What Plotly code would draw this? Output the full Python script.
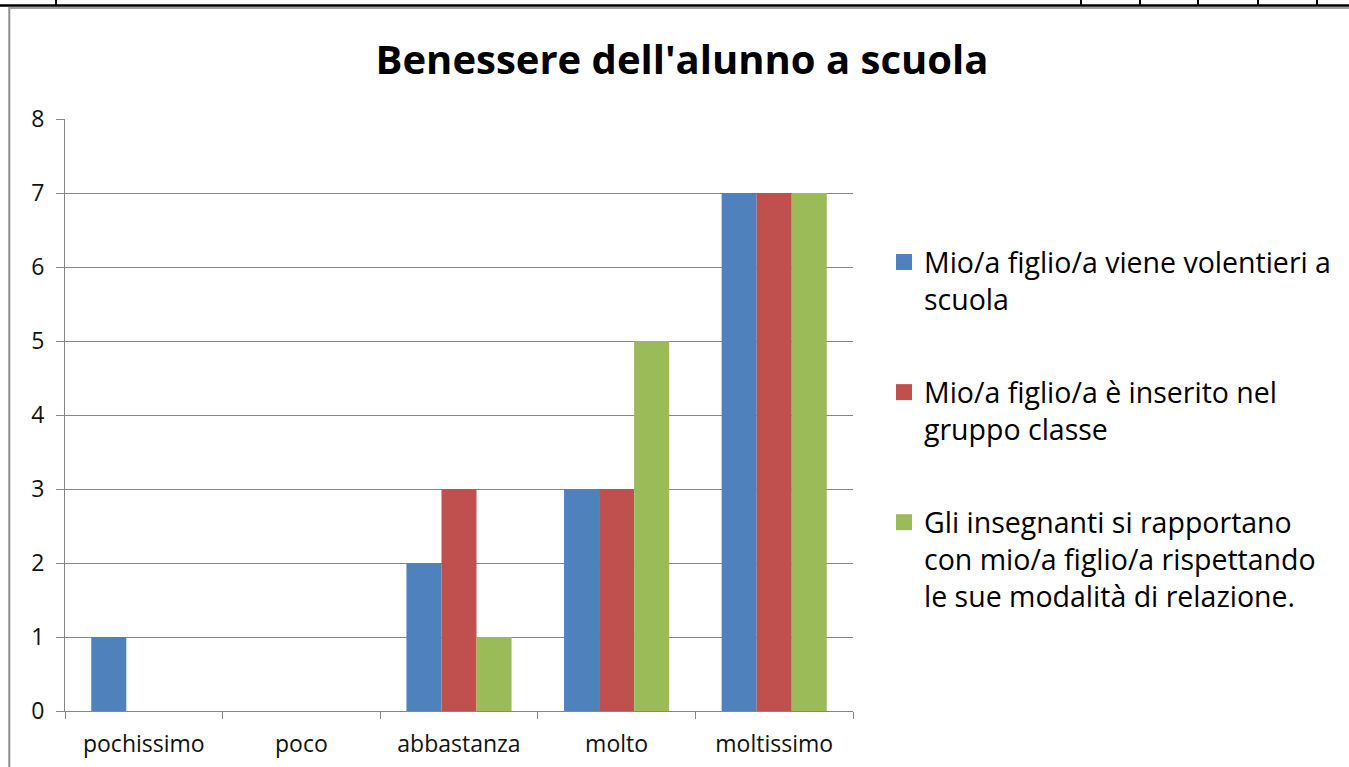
import plotly.graph_objects as go

categories = ["pochissimo", "poco", "abbastanza", "molto", "moltissimo"]
series_names = [
    "Mio/a figlio/a viene volentieri a<br>scuola",
    "Mio/a figlio/a è inserito nel<br>gruppo classe",
    "Gli insegnanti si rapportano<br>con mio/a figlio/a rispettando<br>le sue modalità di relazione.",
]
values_viene = [1, 0, 2, 3, 7]
values_inserito = [0, 0, 3, 3, 7]
values_insegnanti = [0, 0, 1, 5, 7]
colors = ["#4F81BD", "#C0504D", "#9BBB59"]
y_ticks = [0, 1, 2, 3, 4, 5, 6, 7, 8]

W, H = 1349, 767
L, R, T, B = 65, 853, 119, 711

FONT = "Open Sans"

fig = go.Figure()
all_vals = [values_viene, values_inserito, values_insegnanti]
for i, (name, vals) in enumerate(zip(series_names, all_vals)):
    fig.add_trace(go.Bar(x=categories, y=vals, name=name,
                         marker=dict(color=colors[i], line=dict(width=0)),
                         showlegend=False, legendgroup=str(i)))
for i, name in enumerate(series_names):
    fig.add_trace(go.Scatter(x=[None], y=[None], mode="markers", name=name,
                             marker=dict(symbol="square", size=16, color=colors[i]),
                             showlegend=True, legendgroup=str(i)))

def px_x(p):
    return (p - L) / (R - L)

def px_y(p):
    return (B - p) / (B - T)

shapes = []
# page table line at top
shapes.append(dict(type="line", xref="paper", yref="paper", x0=px_x(0), x1=px_x(W), y0=px_y(5.5), y1=px_y(5.5),
                   line=dict(color="black", width=2.5)))
for xv in [56, 1081, 1140, 1198, 1258, 1317]:
    shapes.append(dict(type="line", xref="paper", yref="paper", x0=px_x(xv), x1=px_x(xv), y0=px_y(0), y1=px_y(6),
                       line=dict(color="black", width=2)))
# gray chart frame
shapes.append(dict(type="line", xref="paper", yref="paper", x0=px_x(9.3), x1=px_x(9.3), y0=px_y(7), y1=px_y(H),
                   line=dict(color="#8c8c8c", width=2)))
shapes.append(dict(type="line", xref="paper", yref="paper", x0=px_x(9), x1=px_x(W), y0=px_y(8), y1=px_y(8),
                   line=dict(color="#a0a0a0", width=2)))

fig.update_layout(
    width=W, height=H,
    margin=dict(l=L, r=W - R, t=T, b=H - B, autoexpand=False),
    paper_bgcolor="white", plot_bgcolor="white",
    barmode="group", bargap=0.333, bargroupgap=0,
    font=dict(family=FONT, color="black"),
    title=dict(text="<b>Benessere dell'alunno a scuola</b>", x=682 / W, xanchor="center",
               y=1 - 60 / H, yanchor="middle", yref="container",
               font=dict(family=FONT, size=40, color="black")),
    xaxis=dict(type="category", tickson="boundaries", showgrid=False,
               ticks="outside", ticklen=7, tickcolor="#868686",
               showline=True, linecolor="#868686", linewidth=1,
               tickfont=dict(family=FONT, size=23, color="#111111"), ticklabelstandoff=12),
    yaxis=dict(range=[0, 8], tickvals=y_ticks, showgrid=True, gridcolor="#868686", gridwidth=1,
               ticks="outside", ticklen=8, tickcolor="#868686",
               showline=True, linecolor="#868686", linewidth=1, zeroline=False,
               tickfont=dict(family=FONT, size=23, color="#111111"), ticklabelstandoff=7),
    legend=dict(x=px_x(884), y=px_y(237), xanchor="left", yanchor="top",
                font=dict(family=FONT, size=28.5, color="black"),
                tracegroupgap=53, valign="top", traceorder="grouped",
                bgcolor="rgba(0,0,0,0)"),
    shapes=shapes,
)

fig.write_html("out.html", config={"displayModeBar": False},
               post_script="document.body.style.margin='0';document.body.style.overflow='hidden';")
